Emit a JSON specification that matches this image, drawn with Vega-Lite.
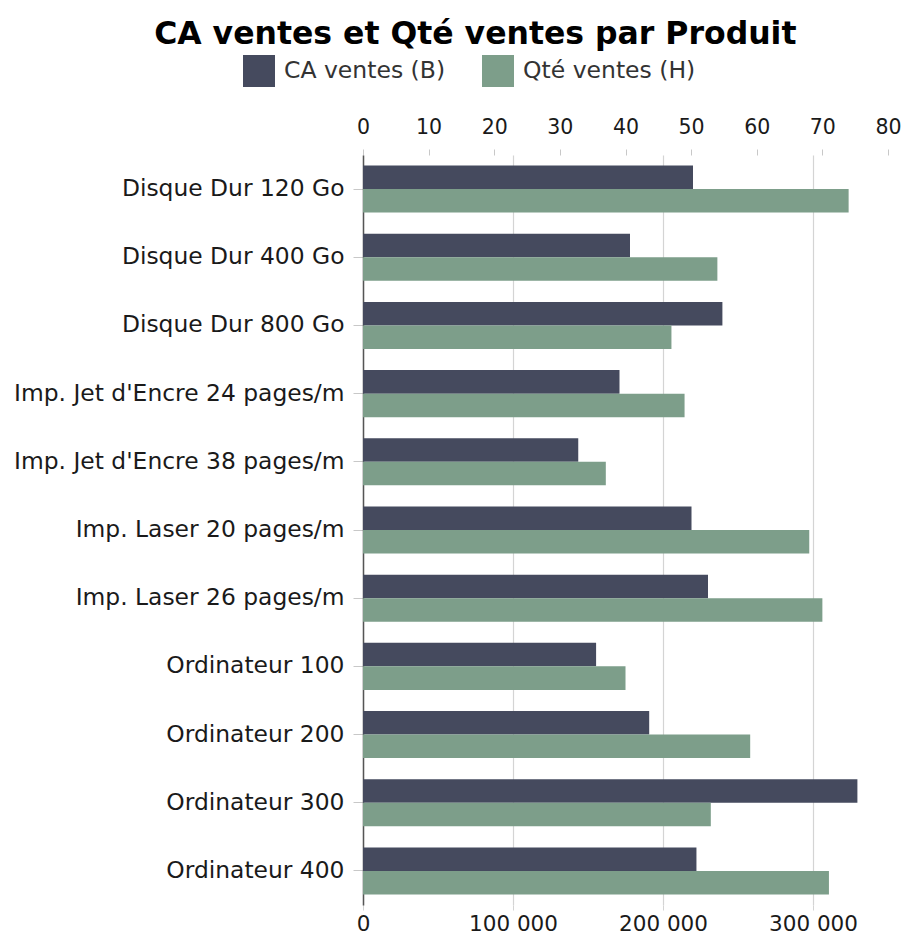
{
  "$schema": "https://vega.github.io/schema/vega-lite/v6.json",
  "width": 525,
  "height": 750,
  "padding": {"left": 13, "right": 5, "top": 18, "bottom": 2},
  "background": "white",
  "config": {
    "view": {"stroke": null},
    "font": "DejaVu Sans"
  },
  "title": {
    "text": "CA ventes et Qté ventes par Produit",
    "font": "DejaVu Sans",
    "fontSize": 31.5,
    "fontWeight": "bold",
    "color": "#000000",
    "anchor": "middle",
    "frame": "bounds",
    "dx": 18,
    "offset": 5
  },
  "data": {
    "values": [
      {"produit": "Disque Dur 120 Go", "serie": "CA ventes (B)", "valeur": 220000},
      {"produit": "Disque Dur 120 Go", "serie": "Qté ventes (H)", "valeur": 74},
      {"produit": "Disque Dur 400 Go", "serie": "CA ventes (B)", "valeur": 178000},
      {"produit": "Disque Dur 400 Go", "serie": "Qté ventes (H)", "valeur": 54},
      {"produit": "Disque Dur 800 Go", "serie": "CA ventes (B)", "valeur": 239600},
      {"produit": "Disque Dur 800 Go", "serie": "Qté ventes (H)", "valeur": 47},
      {"produit": "Imp. Jet d'Encre 24 pages/m", "serie": "CA ventes (B)", "valeur": 171000},
      {"produit": "Imp. Jet d'Encre 24 pages/m", "serie": "Qté ventes (H)", "valeur": 49},
      {"produit": "Imp. Jet d'Encre 38 pages/m", "serie": "CA ventes (B)", "valeur": 143500},
      {"produit": "Imp. Jet d'Encre 38 pages/m", "serie": "Qté ventes (H)", "valeur": 37},
      {"produit": "Imp. Laser 20 pages/m", "serie": "CA ventes (B)", "valeur": 219000},
      {"produit": "Imp. Laser 20 pages/m", "serie": "Qté ventes (H)", "valeur": 68},
      {"produit": "Imp. Laser 26 pages/m", "serie": "CA ventes (B)", "valeur": 230000},
      {"produit": "Imp. Laser 26 pages/m", "serie": "Qté ventes (H)", "valeur": 70},
      {"produit": "Ordinateur 100", "serie": "CA ventes (B)", "valeur": 155400},
      {"produit": "Ordinateur 100", "serie": "Qté ventes (H)", "valeur": 40},
      {"produit": "Ordinateur 200", "serie": "CA ventes (B)", "valeur": 190800},
      {"produit": "Ordinateur 200", "serie": "Qté ventes (H)", "valeur": 59},
      {"produit": "Ordinateur 300", "serie": "CA ventes (B)", "valeur": 329600},
      {"produit": "Ordinateur 300", "serie": "Qté ventes (H)", "valeur": 53},
      {"produit": "Ordinateur 400", "serie": "CA ventes (B)", "valeur": 222300},
      {"produit": "Ordinateur 400", "serie": "Qté ventes (H)", "valeur": 71}
    ]
  },
  "encoding": {
    "y": {
      "field": "produit",
      "type": "nominal",
      "sort": null,
      "scale": {"paddingInner": 0.31, "paddingOuter": 0.155},
      "axis": {
        "title": null,
        "labelFont": "DejaVu Sans",
        "labelFontSize": 23.4,
        "labelColor": "#1a1a1a",
        "labelLimit": 400,
        "labelPadding": 9,
        "tickColor": "#c8c8c8",
        "tickSize": 10,
        "domainColor": "#555555",
        "domainWidth": 1.5,
        "grid": false
      }
    },
    "yOffset": {
      "field": "serie",
      "type": "nominal",
      "scale": {"domain": ["CA ventes (B)", "Qté ventes (H)"]}
    },
    "color": {
      "field": "serie",
      "type": "nominal",
      "scale": {"domain": ["CA ventes (B)", "Qté ventes (H)"], "range": ["#454a5e", "#7d9e8a"]},
      "legend": {
        "title": null,
        "orient": "none",
        "legendX": -120,
        "legendY": -100,
        "direction": "horizontal",
        "symbolType": "square",
        "symbolSize": 1024,
        "symbolStrokeWidth": 0,
        "labelFont": "DejaVu Sans",
        "labelFontSize": 23.5,
        "labelColor": "#333333",
        "labelOffset": 9,
        "columnPadding": 36,
        "labelLimit": 300
      }
    }
  },
  "layer": [
    {
      "transform": [{"filter": "datum.serie === 'CA ventes (B)'"}],
      "mark": {"type": "bar"},
      "encoding": {
        "x": {
          "field": "valeur",
          "type": "quantitative",
          "scale": {"domain": [0, 350000], "nice": false},
          "axis": {
            "orient": "bottom",
            "title": null,
            "values": [0, 100000, 200000, 300000],
            "format": ",d",
            "labelExpr": "replace(datum.label, /,/g, ' ')",
            "labelFont": "DejaVu Sans",
            "labelFontSize": 21.5,
            "labelColor": "#1a1a1a",
            "labelPadding": 3,
            "labelFlush": false,
            "grid": true,
            "gridColor": "#d4d4d4",
            "gridWidth": 1.2,
            "domain": false,
            "tickColor": "#d4d4d4",
            "tickSize": 5,
            "labelOverlap": false
          }
        }
      }
    },
    {
      "transform": [{"filter": "datum.serie === 'Qté ventes (H)'"}],
      "mark": {"type": "bar"},
      "encoding": {
        "x": {
          "field": "valeur",
          "type": "quantitative",
          "scale": {"domain": [0, 80], "nice": false},
          "axis": {
            "orient": "top",
            "title": null,
            "values": [0, 10, 20, 30, 40, 50, 60, 70, 80],
            "labelFont": "DejaVu Sans",
            "labelFontSize": 20.5,
            "labelColor": "#1a1a1a",
            "labelPadding": 12,
            "labelFlush": false,
            "grid": false,
            "domain": false,
            "tickColor": "#c8c8c8",
            "tickSize": 6,
            "labelOverlap": false
          }
        }
      }
    }
  ],
  "resolve": {"scale": {"x": "independent"}}
}
